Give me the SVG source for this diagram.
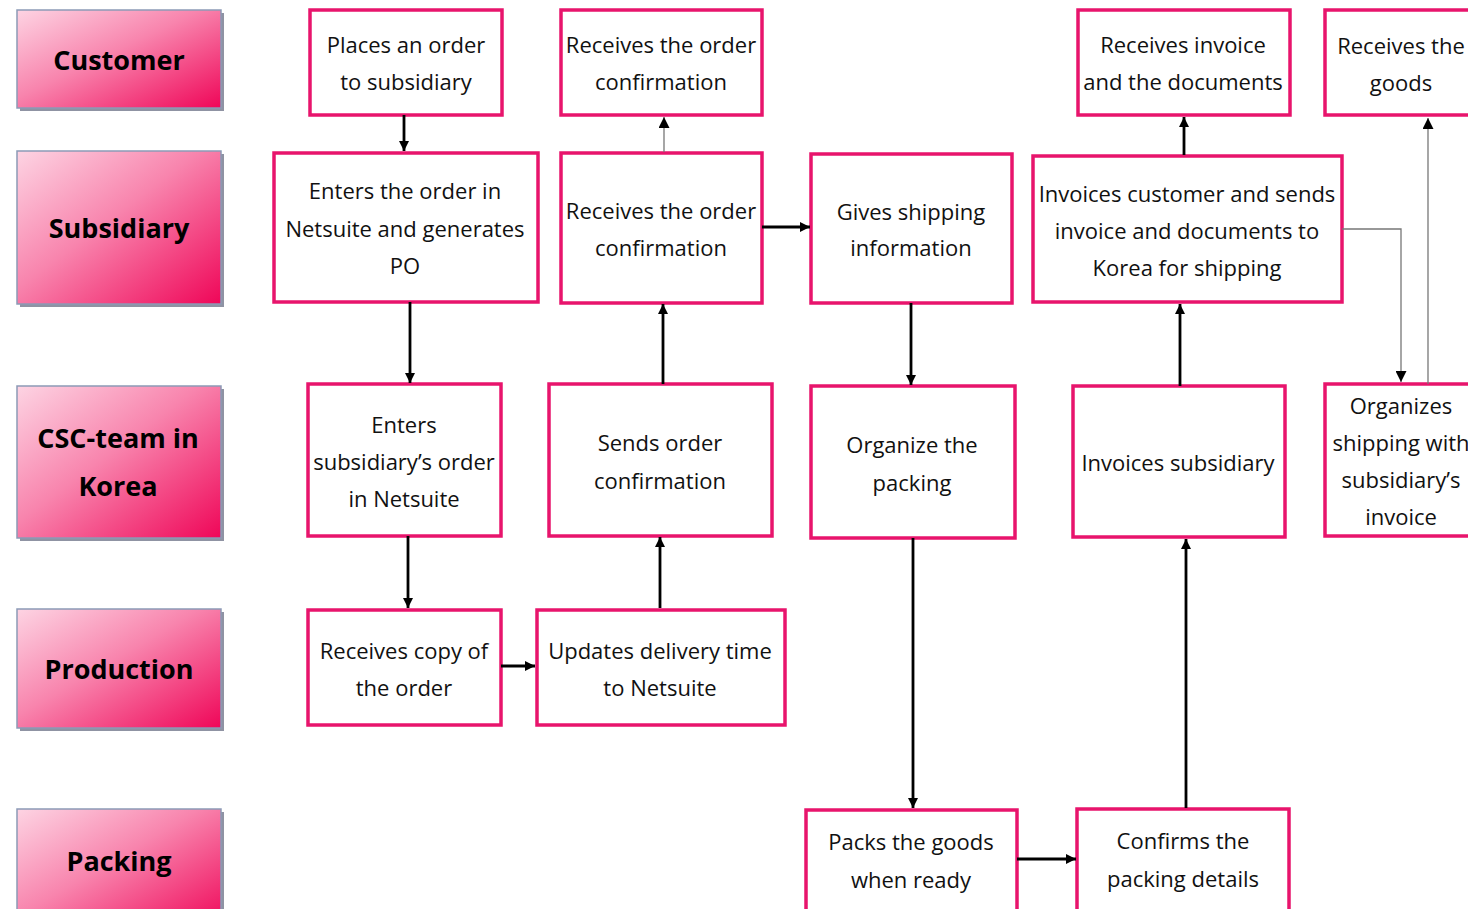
<svg xmlns="http://www.w3.org/2000/svg" width="1468" height="909" viewBox="0 0 1468 909">
  <defs>
    <linearGradient id="laneFill" x1="0" y1="0" x2="1" y2="1">
      <stop offset="0" stop-color="#fdd4e3"/>
      <stop offset="0.45" stop-color="#f884ad"/>
      <stop offset="1" stop-color="#ef0658"/>
    </linearGradient>
    <marker id="ah" viewBox="0 0 10 10" refX="10" refY="5" markerWidth="10" markerHeight="10" markerUnits="userSpaceOnUse" orient="auto">
      <path d="M0,0 L10,5 L0,10 z" fill="#000"/>
    </marker>
    <marker id="ahs" viewBox="0 0 10 10" refX="10" refY="5" markerWidth="11" markerHeight="11" markerUnits="userSpaceOnUse" orient="auto">
      <path d="M0,0 L10,5 L0,10 z" fill="#000"/>
    </marker>
  </defs>
  <style>
    .lane rect.shadow { fill: #8f93a3; }
    .lane rect.body { fill: url(#laneFill); stroke: #8c9ab6; stroke-width: 1.5; }
    .lane text { font-family: "Open Sans", "Noto Sans", sans-serif; font-weight: bold; font-size: 27px; fill: #000; text-anchor: middle; }
    .node rect { fill: #fff; stroke: #e8146c; stroke-width: 3.5; }
    .node text { font-family: "Open Sans", "Noto Sans", sans-serif; font-size: 22px; fill: #111; text-anchor: middle; }
    .thick { stroke: #000; stroke-width: 2.8; fill: none; marker-end: url(#ah); }
    .thin { stroke: #777; stroke-width: 1.3; fill: none; marker-end: url(#ahs); }
  </style>
  <rect width="1468" height="909" fill="#fff"/>

  <!-- swimlane headers -->
  <g id="lane-customer" class="lane">
    <rect class="shadow" x="20" y="13" width="204" height="98"/>
    <rect class="body" x="17" y="10" width="204" height="98"/>
    <text x="119" y="70">Customer</text>
  </g>
  <g id="lane-subsidiary" class="lane">
    <rect class="shadow" x="20" y="154" width="204" height="153"/>
    <rect class="body" x="17" y="151" width="204" height="153"/>
    <text x="119" y="238">Subsidiary</text>
  </g>
  <g id="lane-csc" class="lane">
    <rect class="shadow" x="20" y="389" width="204" height="152"/>
    <rect class="body" x="17" y="386" width="204" height="152"/>
    <text x="118" y="448">CSC-team in</text>
    <text x="118" y="496">Korea</text>
  </g>
  <g id="lane-production" class="lane">
    <rect class="shadow" x="20" y="612" width="204" height="119"/>
    <rect class="body" x="17" y="609" width="204" height="119"/>
    <text x="119" y="679">Production</text>
  </g>
  <g id="lane-packing" class="lane">
    <rect class="shadow" x="20" y="812" width="204" height="120"/>
    <rect class="body" x="17" y="809" width="204" height="120"/>
    <text x="119" y="871">Packing</text>
  </g>

  <!-- process steps -->
  <g id="n-place-order" class="node">
    <rect x="310" y="10" width="192" height="105"/>
    <text x="406" y="53">Places an order</text>
    <text x="406" y="90">to subsidiary</text>
  </g>
  <g id="n-cust-confirm" class="node">
    <rect x="561" y="10" width="201" height="105"/>
    <text x="661" y="53">Receives the order</text>
    <text x="661" y="90">confirmation</text>
  </g>
  <g id="n-cust-invoice" class="node">
    <rect x="1078" y="10" width="212" height="105"/>
    <text x="1183" y="53">Receives invoice</text>
    <text x="1183" y="90">and the documents</text>
  </g>
  <g id="n-cust-goods" class="node">
    <rect x="1325" y="10" width="160" height="105"/>
    <text x="1401" y="54">Receives the</text>
    <text x="1401" y="91">goods</text>
  </g>

  <g id="n-enter-order" class="node">
    <rect x="274" y="153" width="264" height="149"/>
    <text x="405" y="199">Enters the order in</text>
    <text x="405" y="237">Netsuite and generates</text>
    <text x="405" y="274">PO</text>
  </g>
  <g id="n-sub-confirm" class="node">
    <rect x="561" y="153" width="201" height="150"/>
    <text x="661" y="219">Receives the order</text>
    <text x="661" y="256">confirmation</text>
  </g>
  <g id="n-shipping-info" class="node">
    <rect x="811" y="154" width="201" height="149"/>
    <text x="911" y="220">Gives shipping</text>
    <text x="911" y="256">information</text>
  </g>
  <g id="n-invoice-customer" class="node">
    <rect x="1033" y="156" width="309" height="146"/>
    <text x="1187" y="202">Invoices customer and sends</text>
    <text x="1187" y="239">invoice and documents to</text>
    <text x="1187" y="276">Korea for shipping</text>
  </g>

  <g id="n-csc-enter" class="node">
    <rect x="308" y="384" width="193" height="152"/>
    <text x="404" y="433">Enters</text>
    <text x="404" y="470">subsidiary’s order</text>
    <text x="404" y="507">in Netsuite</text>
  </g>
  <g id="n-send-confirm" class="node">
    <rect x="549" y="384" width="223" height="152"/>
    <text x="660" y="451">Sends order</text>
    <text x="660" y="489">confirmation</text>
  </g>
  <g id="n-organize-packing" class="node">
    <rect x="811" y="386" width="204" height="152"/>
    <text x="912" y="453">Organize the</text>
    <text x="912" y="491">packing</text>
  </g>
  <g id="n-invoice-subsidiary" class="node">
    <rect x="1073" y="386" width="212" height="151"/>
    <text x="1178" y="471">Invoices subsidiary</text>
  </g>
  <g id="n-organize-shipping" class="node">
    <rect x="1325" y="384" width="160" height="152"/>
    <text x="1401" y="414">Organizes</text>
    <text x="1401" y="451">shipping with</text>
    <text x="1401" y="488">subsidiary’s</text>
    <text x="1401" y="525">invoice</text>
  </g>

  <g id="n-copy-order" class="node">
    <rect x="308" y="610" width="193" height="115"/>
    <text x="404" y="659">Receives copy of</text>
    <text x="404" y="696">the order</text>
  </g>
  <g id="n-delivery-time" class="node">
    <rect x="537" y="610" width="248" height="115"/>
    <text x="660" y="659">Updates delivery time</text>
    <text x="660" y="696">to Netsuite</text>
  </g>

  <g id="n-pack-goods" class="node">
    <rect x="806" y="810" width="211" height="120"/>
    <text x="911" y="850">Packs the goods</text>
    <text x="911" y="888">when ready</text>
  </g>
  <g id="n-confirm-packing" class="node">
    <rect x="1077" y="809" width="212" height="121"/>
    <text x="1183" y="849">Confirms the</text>
    <text x="1183" y="887">packing details</text>
  </g>

  <!-- connectors -->
  <g id="connectors">
    <line class="thick" x1="404" y1="115" x2="404" y2="151"/>
    <line class="thin" x1="664" y1="152" x2="664" y2="117"/>
    <line class="thick" x1="410" y1="302" x2="410" y2="383"/>
    <line class="thick" x1="663" y1="384" x2="663" y2="304"/>
    <line class="thick" x1="762" y1="227" x2="810" y2="227"/>
    <line class="thick" x1="911" y1="303" x2="911" y2="385"/>
    <line class="thick" x1="1180" y1="386" x2="1180" y2="304"/>
    <line class="thick" x1="1184" y1="155" x2="1184" y2="117"/>
    <polyline class="thin" points="1342,229 1401,229 1401,382"/>
    <line class="thin" x1="1428" y1="384" x2="1428" y2="118"/>
    <line class="thick" x1="408" y1="536" x2="408" y2="608"/>
    <line class="thick" x1="660" y1="608" x2="660" y2="537"/>
    <line class="thick" x1="501" y1="666" x2="535" y2="666"/>
    <line class="thick" x1="913" y1="538" x2="913" y2="808"/>
    <line class="thick" x1="1186" y1="808" x2="1186" y2="539"/>
    <line class="thick" x1="1017" y1="859" x2="1076" y2="859"/>
  </g>
</svg>
